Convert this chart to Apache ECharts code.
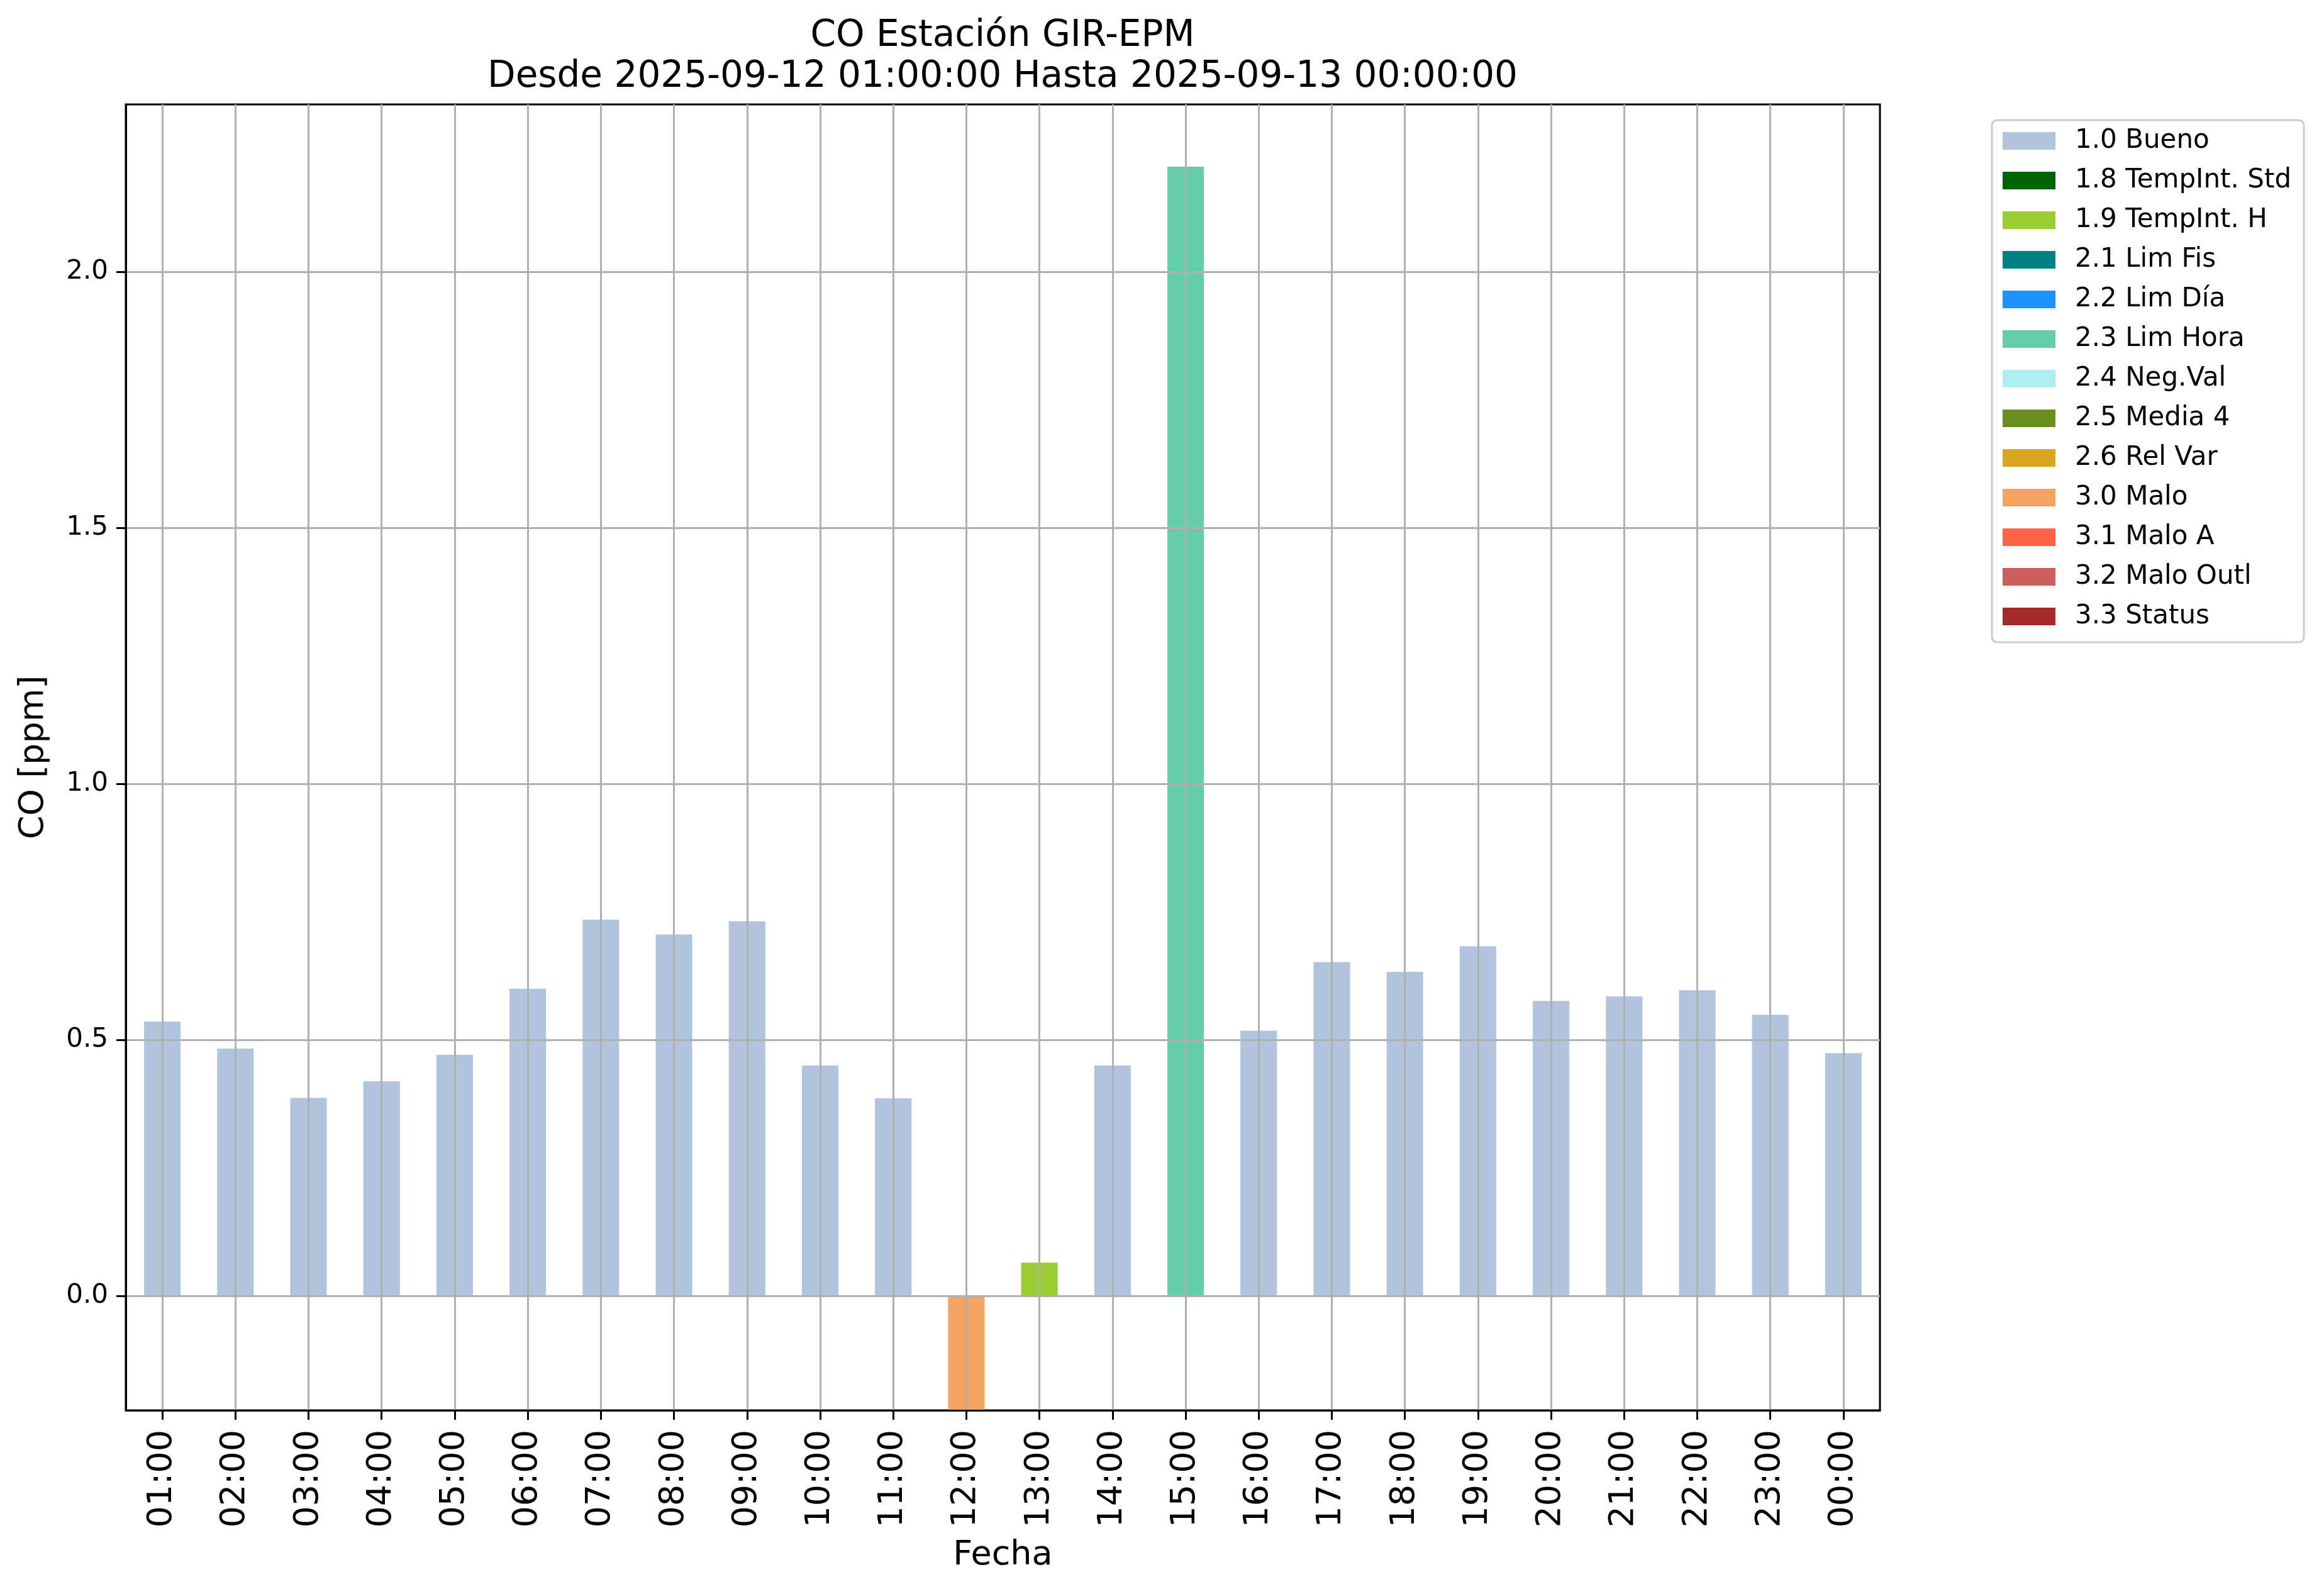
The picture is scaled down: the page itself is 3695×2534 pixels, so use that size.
<!DOCTYPE html>
<html>
<head>
<meta charset="utf-8">
<script src="https://cdn.jsdelivr.net/npm/echarts@6/dist/echarts.min.js"></script>
<style>
html,body{margin:0;padding:0;background:#fff;}
#chart{width:3695px;height:2534px;}
</style>
</head>
<body>
<div id="chart"></div>
<script>
// ---- data ----
const categories = ['01:00','02:00','03:00','04:00','05:00','06:00','07:00','08:00','09:00','10:00','11:00','12:00',
  '13:00','14:00','15:00','16:00','17:00','18:00','19:00','20:00','21:00','22:00','23:00','00:00'];
const coValues = [0.536,0.483,0.387,0.419,0.471,0.600,0.735,0.706,0.732,0.450,0.386,-0.24,
  0.065,0.450,2.206,0.518,0.652,0.633,0.683,0.576,0.585,0.597,0.549,0.474];
const hourFlags = ['1.0 Bueno','1.0 Bueno','1.0 Bueno','1.0 Bueno','1.0 Bueno','1.0 Bueno','1.0 Bueno','1.0 Bueno',
  '1.0 Bueno','1.0 Bueno','1.0 Bueno','3.0 Malo','1.9 TempInt. H','1.0 Bueno','2.3 Lim Hora','1.0 Bueno',
  '1.0 Bueno','1.0 Bueno','1.0 Bueno','1.0 Bueno','1.0 Bueno','1.0 Bueno','1.0 Bueno','1.0 Bueno'];
const flagNames = ['1.0 Bueno','1.8 TempInt. Std','1.9 TempInt. H','2.1 Lim Fis','2.2 Lim Día','2.3 Lim Hora',
  '2.4 Neg.Val','2.5 Media 4','2.6 Rel Var','3.0 Malo','3.1 Malo A','3.2 Malo Outl','3.3 Status'];
const yTickValues = [0, 0.5, 1.0, 1.5, 2.0];
const titleLines = ['CO Estación GIR-EPM', 'Desde 2025-09-12 01:00:00 Hasta 2025-09-13 00:00:00'];

// ---- styles ----
const flagColors = ['#B0C4DE','#006400','#9ACD32','#008080','#1E90FF','#66CDAA','#AFEEEE','#6B8E23',
  '#DAA520','#F4A460','#FF6347','#CD5C5C','#A52A2A'];
const FONT = 'DejaVu Sans';

const series = flagNames.map((name, i) => ({
  name: name,
  type: 'bar',
  stack: 'co',
  barWidth: '50%',
  clip: true,
  itemStyle: { color: flagColors[i] },
  data: coValues.map((v, j) => hourFlags[j] === name ? v : null)
}));

const chart = echarts.init(document.getElementById('chart'), null, { renderer: 'canvas' });
chart.setOption({
  animation: false,
  backgroundColor: '#ffffff',
  title: {
    text: titleLines.join('\n'),
    left: 1594,
    top: 25,
    textAlign: 'center',
    padding: 0,
    textStyle: { fontFamily: FONT, fontSize: 58, fontWeight: 'normal', color: '#000', lineHeight: 65 }
  },
  legend: {
    orient: 'vertical',
    left: 3167,
    top: 191,
    itemWidth: 84,
    itemHeight: 28,
    itemGap: 21,
    icon: 'rect',
    selectedMode: false,
    padding: [12, 20, 20, 17],
    backgroundColor: '#ffffff',
    borderColor: '#cccccc',
    borderWidth: 3,
    borderRadius: 8,
    textStyle: { fontFamily: FONT, fontSize: 42, lineHeight: 42, color: '#000', padding: [0, 0, 0, 26] },
    data: flagNames
  },
  grid: {
    left: 200, top: 166, right: 706, bottom: 292,
    show: true, borderColor: '#000', borderWidth: 3, backgroundColor: 'transparent',
    containLabel: false, outerBoundsMode: 'none'
  },
  xAxis: {
    type: 'category',
    data: categories,
    boundaryGap: true,
    z: 5,
    name: 'Fecha',
    nameLocation: 'middle',
    nameGap: 204,
    nameTextStyle: { fontFamily: FONT, fontSize: 54, color: '#000' },
    axisLine: { show: true, onZero: false, lineStyle: { color: '#000', width: 3 } },
    axisTick: { show: true, alignWithLabel: true, length: 15, lineStyle: { color: '#000', width: 3 }, interval: 0 },
    axisLabel: { rotate: 90, interval: 0, margin: 31, fontFamily: FONT, fontSize: 54, color: '#000' },
    splitLine: { show: true, alignWithLabel: true, interval: 0, lineStyle: { color: '#b0b0b0', width: 3 } }
  },
  yAxis: {
    type: 'value',
    min: -0.2236,
    max: 2.3276,
    splitNumber: 5,
    minInterval: 0.5,
    maxInterval: 0.5,
    z: 5,
    name: 'CO [ppm]',
    nameLocation: 'middle',
    nameGap: 119,
    nameTextStyle: { fontFamily: FONT, fontSize: 54, color: '#000' },
    axisLine: { show: true, onZero: false, lineStyle: { color: '#000', width: 3 } },
    axisTick: { show: true, length: 15, lineStyle: { color: '#000', width: 3 }, customValues: yTickValues },
    axisLabel: {
      fontFamily: FONT, fontSize: 42, color: '#000', margin: 28,
      customValues: yTickValues,
      formatter: v => v.toFixed(1)
    },
    splitLine: { show: true, lineStyle: { color: '#b0b0b0', width: 3 } }
  },
  series: series
});
</script>
</body>
</html>
